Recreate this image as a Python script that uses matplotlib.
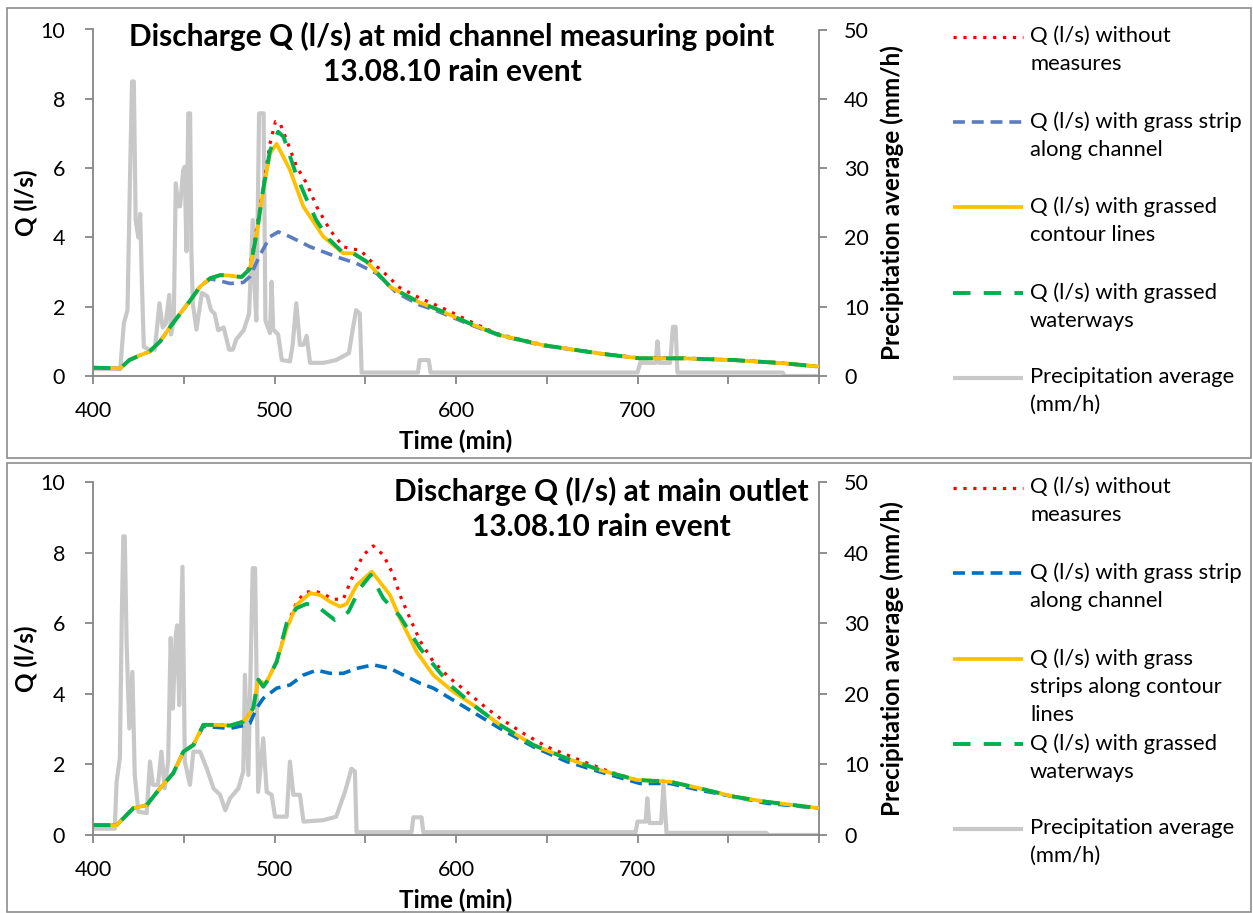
import numpy as np
import matplotlib
matplotlib.use('Agg')
from matplotlib import pyplot as plt
from matplotlib.lines import Line2D
from matplotlib.patches import Rectangle

plt.rcParams['font.family'] = ['Lato', 'DejaVu Sans']

# ---------------- data: top panel (mid channel measuring point) ----------------
top_t_none = [400, 415, 420, 426, 431, 437, 442, 448, 453, 459, 464.5, 470, 475, 479, 482, 486.5, 490,
              494, 497.5, 500.5, 503, 506.7, 512.2, 517.7, 523.2, 530.6, 537.9, 543, 547.1, 554.4,
              561, 569, 580, 587.5, 596, 606, 615, 624, 648, 679, 701, 725, 753, 780, 800]
top_q_none = [0.24, 0.22, 0.46, 0.6, 0.70, 1.0, 1.38, 1.8, 2.14, 2.58, 2.82, 2.92, 2.90, 2.87, 2.87, 3.15, 4.2,
              5.5, 6.7, 7.34, 7.3, 6.81, 6.04, 5.56, 4.89, 4.21, 3.73, 3.66, 3.64, 3.25,
              2.95, 2.55, 2.25, 2.08, 1.88, 1.62, 1.40, 1.20, 0.9, 0.66, 0.52, 0.52, 0.46, 0.38, 0.27]

top_t_strip = [400, 415, 420, 426, 431, 437, 442, 448, 453, 459, 464.5, 468, 475.5, 482.8, 486.5, 492,
               497.5, 502.1, 508.5, 519.6, 534.2, 545.2, 556.3, 567.3, 580, 587.5, 596, 606, 615, 624,
               648, 679, 701, 725, 753, 780, 800]
top_q_strip = [0.24, 0.22, 0.46, 0.6, 0.70, 1.0, 1.38, 1.8, 2.14, 2.58, 2.80, 2.77, 2.67, 2.70, 2.87, 3.49,
               4.02, 4.16, 4.02, 3.73, 3.44, 3.25, 2.96, 2.40, 2.05, 1.92, 1.74, 1.52, 1.34, 1.17,
               0.88, 0.65, 0.51, 0.51, 0.46, 0.37, 0.27]

top_t_contour = [400, 415, 420, 426, 431, 437, 442, 448, 453, 459, 464.5, 470, 475, 479, 482, 486.5, 490.2,
                 493.8, 497.5, 501.2, 508.5, 515.9, 526.9, 537.9, 543.4, 550.8, 563.6, 569, 580, 587.5,
                 596, 606, 615, 624, 648, 679, 701, 725, 753, 780, 800]
top_q_contour = [0.24, 0.22, 0.46, 0.6, 0.70, 1.0, 1.38, 1.8, 2.14, 2.58, 2.82, 2.91, 2.90, 2.87, 2.86, 3.1, 4.12,
                 5.37, 6.43, 6.7, 5.95, 4.89, 4.02, 3.54, 3.54, 3.30, 2.58, 2.42, 2.12, 1.97,
                 1.78, 1.55, 1.36, 1.18, 0.89, 0.65, 0.51, 0.51, 0.46, 0.37, 0.27]

top_t_water = [400, 415, 420, 426, 431, 437, 442, 448, 453, 459, 464.5, 470, 475, 479, 482, 486.5, 490.2,
               493.8, 497.5, 502, 505, 512, 517.7, 523, 530, 537.9, 543.4, 550.8, 563.6, 569, 580, 587.5,
               596, 606, 615, 624, 648, 679, 701, 725, 753, 780, 800]
top_q_water = [0.24, 0.22, 0.46, 0.6, 0.70, 1.0, 1.38, 1.8, 2.14, 2.58, 2.82, 2.91, 2.90, 2.87, 2.86, 3.1, 4.12,
               5.4, 6.5, 7.05, 6.9, 5.8, 5.1, 4.5, 3.95, 3.55, 3.54, 3.30, 2.58, 2.42, 2.12, 1.97,
               1.78, 1.55, 1.36, 1.18, 0.89, 0.65, 0.51, 0.51, 0.46, 0.37, 0.27]

top_t_rain = [400, 415, 417, 419, 420.5, 421.5, 422.5, 423.5, 425, 426, 427, 428, 431, 434, 435, 436.6, 438.4,
              440, 442, 443, 444.5, 445.6, 447, 448, 449.7, 450.5, 451.5, 452.5, 453.5, 454.2, 455, 457,
              460, 463, 465, 467, 469, 472, 475, 477, 479, 483, 486, 488, 489, 490, 491.5, 494, 495,
              497.5, 498.4, 499.3, 502, 504, 508.5, 510, 512, 514, 516, 517.7, 519.6, 527, 534, 541,
              543, 545, 547, 548, 579, 580, 585, 586, 700, 701.5, 710, 711, 712, 718, 719.5, 721, 722,
              780, 781, 800]
top_p_rain = [1.0, 1.0, 7.6, 9.5, 30, 42.5, 42.5, 22.5, 20, 23.4, 12.9, 4.2, 3.8, 3.8, 6.2, 10.5, 7,
              7.5, 11.7, 6, 8, 27.8, 24.5, 24.5, 29.7, 30.2, 18, 37.9, 37.9, 18, 10.5, 6.7,
              12, 11.5, 9.5, 9, 6.6, 7, 3.8, 3.8, 5.3, 6.6, 9, 22.5, 13, 8, 37.9, 37.9, 8,
              6.2, 13.6, 6.7, 6, 2.3, 2.1, 4.5, 10.5, 4.5, 4.5, 5.8, 1.9, 1.9, 2.3, 3.3,
              6.6, 9.5, 9, 0.5, 0.5, 2.3, 2.3, 0.5, 0.5, 1.9, 1.9, 5, 1.9, 1.9, 7.1, 7.1, 0.5,
              0.5, 0, 0]

# ---------------- data: bottom panel (main outlet) ----------------
bot_t_none = [400, 413, 416.7, 422.2, 429.6, 436.9, 444.2, 449.8, 455.3, 460.8, 468.1, 475.5, 482.8, 486.5,
              488.3, 490.2, 491.1, 493.8, 495.7, 501.2, 506.7, 512.2, 517, 523, 528, 532, 537.9, 543.4,
              548.9, 554.4, 560, 565.5, 569.1, 574.6, 580.2, 587.5, 596.7, 605.9, 616.9, 624.2, 637.1,
              650, 670.2, 684.8, 699.5, 717.9, 734.4, 752.8, 771.1, 800]
bot_q_none = [0.28, 0.28, 0.47, 0.76, 0.85, 1.32, 1.75, 2.36, 2.55, 3.12, 3.12, 3.1, 3.21, 3.45,
              3.6, 4.16, 4.39, 4.3, 4.34, 4.91, 5.9, 6.6, 6.88, 6.9, 6.8, 6.68, 6.68, 7.37,
              7.93, 8.19, 7.93, 7.37, 6.80, 6.14, 5.50, 4.91, 4.44, 4.06, 3.59, 3.31, 2.88,
              2.5, 2.08, 1.79, 1.56, 1.51, 1.32, 1.09, 0.94, 0.76]

bot_t_strip = [400, 413, 416.7, 422.2, 429.6, 436.9, 444.2, 449.8, 455.3, 460.8, 468.1, 475.5, 482.8, 486.5,
               490.2, 493.8, 501.2, 508.5, 515.9, 523.2, 530.6, 537.9, 545.3, 554.4, 563.6, 569.1, 580.2,
               587.5, 605.9, 624.2, 642.6, 661, 679.3, 701.4, 717.9, 734.4, 752.8, 771.1, 800]
bot_q_strip = [0.28, 0.28, 0.47, 0.76, 0.85, 1.32, 1.75, 2.36, 2.55, 3.08, 3.05, 3.02, 3.1, 3.17,
               3.6, 3.87, 4.16, 4.25, 4.53, 4.67, 4.58, 4.58, 4.72, 4.82, 4.72, 4.58, 4.30,
               4.16, 3.59, 3.02, 2.5, 2.08, 1.79, 1.46, 1.46, 1.27, 1.09, 0.90, 0.76]

bot_t_contour = [400, 413, 416.7, 422.2, 429.6, 436.9, 444.2, 449.8, 455.3, 460.8, 468.1, 475.5, 482.8, 486.5,
                 488.3, 490.2, 491.1, 493.8, 495.7, 501.2, 506.7, 512.2, 519.6, 525.1, 530.6, 536.1, 539.8,
                 545.3, 553.6, 563.6, 569.1, 578.3, 587.5, 598.5, 609.5, 624.2, 642.6, 661, 679.3, 699.5,
                 717.9, 734.4, 752.8, 771.1, 800]
bot_q_contour = [0.28, 0.28, 0.47, 0.76, 0.85, 1.32, 1.75, 2.36, 2.55, 3.12, 3.12, 3.1, 3.21, 3.45,
                 3.6, 4.16, 4.39, 4.3, 4.34, 4.91, 5.85, 6.52, 6.85, 6.8, 6.61, 6.47, 6.55,
                 7.08, 7.46, 6.8, 6.14, 5.19, 4.53, 4.06, 3.68, 3.12, 2.55, 2.17, 1.84, 1.56,
                 1.51, 1.32, 1.09, 0.94, 0.76]

bot_t_water = [400, 413, 416.7, 422.2, 429.6, 436.9, 444.2, 449.8, 455.3, 460.8, 468.1, 475.5, 482.8, 486.5,
               488.3, 490.2, 491.1, 493.8, 495.7, 501.2, 506.7, 512, 517.7, 525, 533.3, 538, 540.8, 547.1,
               553, 560, 569, 580.2, 596.7, 609.5, 624.2, 642.6, 661, 679.3, 699.5, 717.9, 734.4, 752.8,
               771.1, 800]
bot_q_water = [0.28, 0.28, 0.47, 0.76, 0.85, 1.32, 1.75, 2.36, 2.55, 3.12, 3.12, 3.1, 3.21, 3.45,
               3.6, 4.16, 4.4, 4.2, 4.34, 4.91, 6.0, 6.42, 6.55, 6.42, 6.09, 6.2, 6.33, 6.99,
               7.37, 6.70, 6.2, 5.29, 4.25, 3.68, 3.12, 2.55, 2.17, 1.84, 1.56, 1.51, 1.32, 1.09,
               0.94, 0.76]

bot_t_rain = [400, 412, 413, 414.8, 415.8, 416.7, 417.5, 418.5, 420, 421.7, 423, 425, 429.6, 431.4, 433,
              435.8, 437.7, 439.5, 441.4, 442.8, 444, 445.6, 446.4, 447.5, 449.3, 450.6, 453.4, 455.3,
              459, 462.7, 466.4, 470, 472.9, 475.5, 480.1, 482.8, 483.7, 485.6, 488, 489.3, 491, 493.8,
              495.7, 498.4, 500.3, 506.7, 508.5, 510.4, 514, 516, 527, 534, 538.8, 542.4, 544.3, 545.2,
              575.5, 576.5, 581, 582, 699, 700, 704.5, 705.4, 706.5, 713, 714.3, 716, 771, 772, 800]
bot_p_rain = [0.9, 0.9, 7.5, 10.9, 30, 42.3, 42.3, 27.4, 15.1, 23.1, 8.5, 3.3, 3.1, 10.4, 7.1,
              7.1, 11.8, 6.6, 10.4, 27.9, 17.9, 28.3, 29.7, 18.4, 38, 10.4, 7.1, 11.8,
              11.8, 9.4, 6.6, 5.7, 3.5, 5.2, 6.6, 9, 22.7, 8.5, 37.8, 37.8, 6.1, 13.7,
              6.1, 5.7, 2.6, 2.6, 10.4, 5.7, 5.7, 1.9, 2.1, 2.6, 6.1, 9.4, 9, 0.4,
              0.4, 2.5, 2.5, 0.4, 0.4, 1.9, 1.9, 5.2, 1.7, 1.7, 7.1, 0.3, 0.3, 0, 0]

titles = ['Discharge Q (l/s) at mid channel measuring point\n13.08.10 rain event',
          'Discharge Q (l/s) at main outlet\n13.08.10 rain event']
labels_top = ['Q (l/s) without\nmeasures', 'Q (l/s) with grass strip\nalong channel',
              'Q (l/s) with grassed\ncontour lines', 'Q (l/s) with grassed\nwaterways',
              'Precipitation average\n(mm/h)']
labels_bot = ['Q (l/s) without\nmeasures', 'Q (l/s) with grass strip\nalong channel',
              'Q (l/s) with grass\nstrips along contour\nlines', 'Q (l/s) with grassed\nwaterways',
              'Precipitation average\n(mm/h)']

# ---------------- styles ----------------
W, H = 1253, 913
GRAY_AX = '#868686'
RAIN = '#C8C8C8'
sty_none = dict(color='#FF0000', lw=2.3, linestyle=(0, (1, 2.1)))
sty_contour = dict(color='#FFC000', lw=2.7, linestyle='-')
sty_water = dict(color='#00B050', lw=2.8, linestyle=(0, (4.5, 3.4)))
sty_rain = dict(color=RAIN, lw=3.0, linestyle='-')

fig = plt.figure(figsize=(W / 100, H / 100), dpi=100)


def px_rect(x0, y0, x1, y1):
    return [x0 / W, 1 - y1 / H, (x1 - x0) / W, (y1 - y0) / H]


def draw_panel(rect, title_xy, title, series, rain, strip_color, labels, leg_y):
    ax = fig.add_axes(px_rect(*rect))
    ax2 = ax.twinx()
    ax.set_zorder(ax2.get_zorder() + 1)
    ax.patch.set_visible(False)

    ax2.plot(rain[0], rain[1], **sty_rain)
    sty_strip = dict(color=strip_color, lw=2.6, linestyle=(0, (3.3, 1.9)))
    for (t, q), sty in zip(series, [sty_none, sty_strip, sty_contour, sty_water]):
        ax.plot(t, q, solid_capstyle='butt', **sty)

    ax.set_xlim(400, 800)
    ax.set_ylim(0, 10)
    ax2.set_ylim(0, 50)
    ax.set_xticks(np.arange(400, 801, 50))
    ax.set_xticklabels([str(v) if v % 100 == 0 and v < 800 else '' for v in range(400, 801, 50)])
    ax.set_yticks(np.arange(0, 11, 2))
    ax2.set_yticks(np.arange(0, 51, 10))

    for s in ['top', 'right']:
        ax.spines[s].set_visible(False)
    for s in ['top', 'left', 'bottom']:
        ax2.spines[s].set_visible(False)
    for s in ['left', 'bottom']:
        ax.spines[s].set_color(GRAY_AX)
        ax.spines[s].set_linewidth(1.3)
    ax2.spines['right'].set_color(GRAY_AX)
    ax2.spines['right'].set_linewidth(1.3)

    ax.tick_params(axis='x', direction='out', length=6, width=1.3, color=GRAY_AX, labelsize=15.5, pad=12)
    ax.tick_params(axis='y', direction='out', length=6, width=1.3, color=GRAY_AX, labelsize=15.5, pad=14)
    ax2.tick_params(axis='y', direction='out', length=6, width=1.3, color=GRAY_AX, labelsize=15.5, pad=12)

    ax.set_xlabel('Time (min)', fontsize=17.5, fontweight='bold', labelpad=6)
    ax.set_ylabel('Q (l/s)', fontsize=17.5, fontweight='bold', labelpad=2)
    ax2.set_ylabel('Precipitation average (mm/h)', fontsize=17.5, fontweight='bold', labelpad=8)

    fig.text(title_xy[0] / W, 1 - title_xy[1] / H, title, ha='center', va='top',
             fontsize=21.5, fontweight='bold', linespacing=1.3)

    # legend drawn beside the plot, handle level with the first text line
    styles = [sty_none, sty_strip, sty_contour, sty_water, sty_rain]
    for lab, sty, y in zip(labels, styles, leg_y):
        fig.add_artist(Line2D([953 / W, 1023 / W], [1 - y / H, 1 - y / H], transform=fig.transFigure,
                              solid_capstyle='butt', **sty))
        fig.text(1030 / W, 1 - (y - 11) / H, lab, ha='left', va='top', fontsize=15.8, linespacing=1.5)
    return ax


draw_panel((93, 29.5, 819, 376), (452, 22), titles[0],
           [(top_t_none, top_q_none), (top_t_strip, top_q_strip),
            (top_t_contour, top_q_contour), (top_t_water, top_q_water)],
           (top_t_rain, top_p_rain), '#5B7DC0', labels_top, [37, 122, 207, 293, 378])
draw_panel((93, 482, 819, 835), (601, 477), titles[1],
           [(bot_t_none, bot_q_none), (bot_t_strip, bot_q_strip),
            (bot_t_contour, bot_q_contour), (bot_t_water, bot_q_water)],
           (bot_t_rain, bot_p_rain), '#0070C0', labels_bot, [488, 573, 659, 744, 829])

# panel frames
fig.add_artist(Rectangle((7 / W, 1 - 458 / H), 1244 / W, 450 / H, transform=fig.transFigure,
                         fill=False, edgecolor='#8C8C8C', lw=1.2))
fig.add_artist(Rectangle((7 / W, 0.001), 1244 / W, 1 - 463 / H - 0.001, transform=fig.transFigure,
                         fill=False, edgecolor='#8C8C8C', lw=1.2))

fig.savefig('out.png', dpi=100)
